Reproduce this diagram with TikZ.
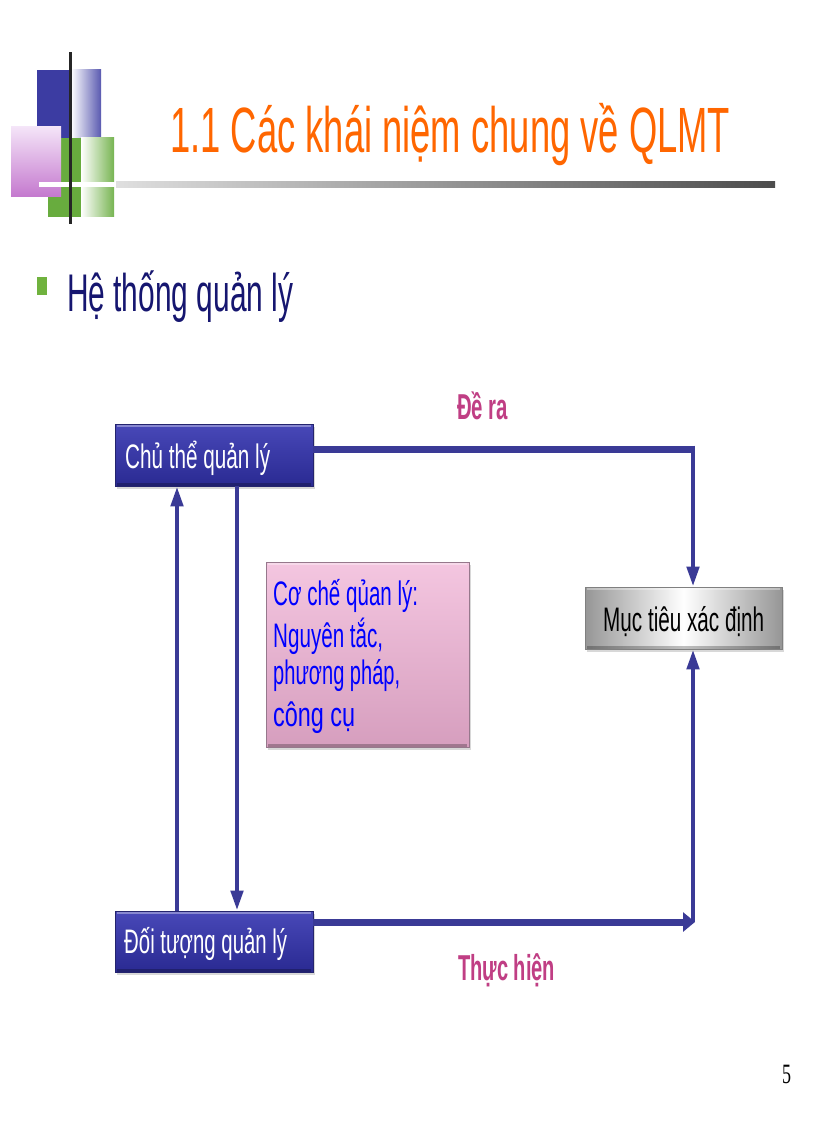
\documentclass[tikz,border=0pt]{standalone}
\usepackage{fontspec}
\setmainfont{Liberation Sans}
\newfontfamily\numfont{Liberation Serif}
\usetikzlibrary{arrows.meta,shadows}
\newcommand\fw[2]{\resizebox{#1}{\height}{#2}}
\definecolor{titleorange}{RGB}{255,102,0}
\definecolor{navy}{RGB}{22,22,112}
\definecolor{bulletgreen}{RGB}{112,178,62}
\definecolor{conn}{RGB}{58,58,150}
\definecolor{blueTop}{RGB}{72,72,184}
\definecolor{blueBot}{RGB}{42,42,146}
\definecolor{blueEdge}{RGB}{36,36,110}
\definecolor{pinkTop}{RGB}{244,198,224}
\definecolor{pinkBot}{RGB}{214,158,190}
\definecolor{pinkEdge}{RGB}{150,120,140}
\definecolor{grayEdge}{RGB}{150,150,150}
\definecolor{labelpink}{RGB}{192,62,132}
\definecolor{decoblue}{RGB}{60,60,162}
\definecolor{decogreen}{RGB}{104,172,62}
\definecolor{decoviolet}{RGB}{196,120,206}
\definecolor{decolight}{RGB}{244,228,248}
\tikzset{
  hline/.style={draw=conn, line width=7pt},
  vline/.style={draw=conn, line width=4.5pt},
  vtip/.style={-{Triangle[length=20pt,width=12pt]}},
  htip/.style={-{Triangle[length=12pt,width=19pt]}},
  bevel/.style={path picture={
      \draw[white, opacity=0.35, line width=2.5pt]
        ([xshift=2pt,yshift=-1.5pt]path picture bounding box.north west) --
        ([xshift=-2pt,yshift=-1.5pt]path picture bounding box.north east);
      \draw[black, opacity=0.25, line width=2.5pt]
        ([xshift=2pt,yshift=1.5pt]path picture bounding box.south west) --
        ([xshift=-2pt,yshift=1.5pt]path picture bounding box.south east);}},
  bluebox/.style={rectangle, inner sep=0, top color=blueTop, bottom color=blueBot,
      draw=blueEdge, line width=0.8pt, bevel,
      drop shadow={shadow xshift=2pt, shadow yshift=-3pt, opacity=0.3}},
  pinkbox/.style={rectangle, inner sep=0, top color=pinkTop, bottom color=pinkBot,
      draw=pinkEdge, line width=0.8pt, bevel,
      drop shadow={shadow xshift=2pt, shadow yshift=-3pt, opacity=0.3}},
  graybox/.style={rectangle, inner sep=0, left color=grayEdge, right color=grayEdge,
      middle color=white, draw=gray, line width=0.8pt, bevel,
      drop shadow={shadow xshift=2pt, shadow yshift=-3pt, opacity=0.3}},
  txt/.style={anchor=base west, inner sep=0},
  boxtext/.style={txt, font=\fontsize{34}{34}\selectfont},
  labeltext/.style={txt, text=labelpink, font=\fontsize{36}{36}\selectfont\bfseries},
}
\begin{document}
\begin{tikzpicture}[x=1pt,y=-1pt]
\useasboundingbox[fill=white] (0,0) rectangle (816,1123);

% title decoration
\fill[decoblue] (37,70) rectangle (71,138);
\shade[left color=white, right color=decoblue!85] (71,70) rectangle (101,138);
\fill[decogreen] (48,138) rectangle (81,217);
\shade[left color=white, right color=decogreen!90] (81,138) rectangle (114,217);
\shade[shading angle=45, top color=decolight, bottom color=decoviolet] (11,127) rectangle (61,197);
\fill[white] (39,182) rectangle (116,187.5);
\shade[left color=gray!25, right color=black!70] (116,182) rectangle (775,187.5);
\fill[black!85] (68.5,52) rectangle (71.5,224);

% title
\node[txt, text=titleorange, font=\fontsize{64}{64}\selectfont] (title) at (170,153)
  {\fw{560pt}{1.1 Các khái niệm chung về QLMT}};

% bullet
\fill[bulletgreen] (37,277) rectangle (47,295);
\node[txt, text=navy, font=\fontsize{53}{53}\selectfont] (heading) at (67,311)
  {\fw{226pt}{Hệ thống quản lý}};

% boxes
\node[bluebox, minimum width=198pt, minimum height=62pt] (ct) at (214,455) {};
\node[bluebox, minimum width=198pt, minimum height=61pt] (dt) at (214,941.5) {};
\node[pinkbox, minimum width=203pt, minimum height=185pt] (cc) at (367.5,654.5) {};
\node[graybox, minimum width=197pt, minimum height=62pt] (mt) at (683.5,618) {};

\node[boxtext, text=white] (ctt) at (125,468) {\fw{145pt}{Chủ thể quản lý}};
\node[boxtext, text=white] (dtt) at (124,953) {\fw{163pt}{Đối tượng quản lý}};
\node[boxtext, text=black] (mtt) at (603,631) {\fw{161pt}{Mục tiêu xác định}};
\node[boxtext, text=blue] (cc1) at (273,605) {\fw{145pt}{Cơ chế qủan lý:}};
\node[boxtext, text=blue] (cc2) at (273,647) {\fw{110pt}{Nguyên tắc,}};
\node[boxtext, text=blue] (cc3) at (273,684) {\fw{127pt}{phương pháp,}};
\node[boxtext, text=blue] (cc4) at (273,726) {\fw{82pt}{công cụ}};

% labels
\node[labeltext] (dera) at (457,419) {\fw{51pt}{Đề ra}};
\node[labeltext] (thuchien) at (458,980) {\fw{97pt}{Thực hiện}};

% connectors
\coordinate (c1) at (693,449);
\coordinate (c2) at (693,922);
\coordinate (c2tip) at (695,922);
\draw[hline] ([yshift=6pt]ct.east) -- (c1);
\draw[vline, vtip] ([yshift=3.5pt]c1) -- ([xshift=9.5pt]mt.north);
\draw[hline, htip] ([yshift=19.5pt]dt.east) -- (c2tip);
\draw[vline, vtip] (c2) -- ([xshift=9.5pt]mt.south);
\draw[vline, vtip] ([xshift=-37pt]dt.north) -- ([xshift=-37pt]ct.south);
\draw[vline, vtip] ([xshift=23pt]ct.south) -- ([xshift=23pt]dt.north);

% page number
\node[txt, font=\fontsize{28}{28}\selectfont\numfont] (pnum) at (782,1083) {\fw{9pt}{5}};
\end{tikzpicture}
\end{document}
